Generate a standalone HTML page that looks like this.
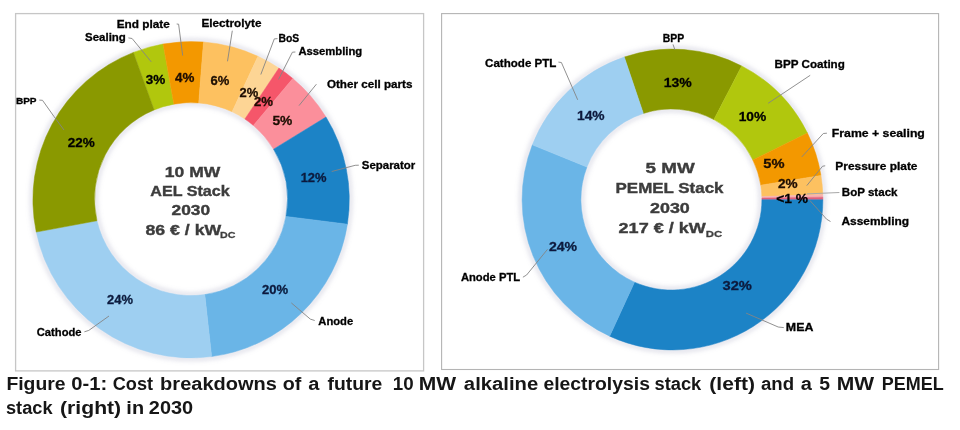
<!DOCTYPE html>
<html><head><meta charset="utf-8"><title>Figure 0-1</title>
<style>
html,body{margin:0;padding:0;background:#fff;}
body{width:960px;height:430px;overflow:hidden;}
svg{display:block;font-family:"Liberation Sans",sans-serif;font-weight:bold;}
</style></head><body>
<svg width="960" height="430" viewBox="0 0 960 430">
<defs><filter id="soft" x="-5%" y="-5%" width="110%" height="110%"><feGaussianBlur stdDeviation="0.55"/></filter><filter id="tsoft" x="0" y="0" width="100%" height="100%" filterUnits="userSpaceOnUse"><feGaussianBlur stdDeviation="0.3"/></filter><filter id="halo" x="-5%" y="-5%" width="110%" height="110%"><feGaussianBlur stdDeviation="2"/></filter></defs>
<rect x="0" y="0" width="960" height="430" fill="#fff"/>
<rect x="15.6" y="13.6" width="408" height="357.3" fill="#fff" stroke="#c6c6c6" stroke-width="1.3"/><rect x="441.6" y="13.6" width="497" height="355.9" fill="#fff" stroke="#b4b4b4" stroke-width="1.1"/>
<g filter="url(#halo)" fill="none" stroke="#9a9ab8" stroke-opacity="0.28" stroke-width="4.5">
<circle cx="191.1" cy="199.7" r="159.39999999999998"/><circle cx="191.0" cy="199.1" r="95.3"/>
<circle cx="672.5" cy="199.5" r="151.6"/><circle cx="671.4" cy="199.5" r="89.3"/>
</g>
<g filter="url(#soft)">
<path d="M133.38,52.41 A158.2,158.2 0 0 1 163.09,44.00 L173.90,104.13 A96.5,96.5 0 0 0 154.10,109.93 Z" fill="#b1c70e" stroke="#b1c70e" stroke-width="0.5"/>
<path d="M163.09,44.00 A158.2,158.2 0 0 1 203.51,41.99 L198.72,102.91 A96.5,96.5 0 0 0 173.90,104.13 Z" fill="#f39800" stroke="#f39800" stroke-width="0.5"/>
<path d="M203.51,41.99 A158.2,158.2 0 0 1 257.96,56.32 L232.09,111.79 A96.5,96.5 0 0 0 198.72,102.91 Z" fill="#fdc160" stroke="#fdc160" stroke-width="0.5"/>
<path d="M257.96,56.32 A158.2,158.2 0 0 1 278.88,68.08 L244.89,119.05 A96.5,96.5 0 0 0 232.09,111.79 Z" fill="#fdd595" stroke="#fdd595" stroke-width="0.5"/>
<path d="M278.88,68.08 A158.2,158.2 0 0 1 292.79,78.51 L253.38,125.47 A96.5,96.5 0 0 0 244.89,119.05 Z" fill="#f5566b" stroke="#f5566b" stroke-width="0.5"/>
<path d="M292.79,78.51 A158.2,158.2 0 0 1 325.99,117.04 L273.57,149.16 A96.5,96.5 0 0 0 253.38,125.47 Z" fill="#fb8f9b" stroke="#fb8f9b" stroke-width="0.5"/>
<path d="M325.99,117.04 A158.2,158.2 0 0 1 347.40,224.18 L285.93,216.42 A96.5,96.5 0 0 0 273.57,149.16 Z" fill="#1f83c6" stroke="#1f83c6" stroke-width="0.5"/>
<path d="M347.40,224.18 A158.2,158.2 0 0 1 211.61,356.56 L204.78,294.61 A96.5,96.5 0 0 0 285.93,216.42 Z" fill="#6ab5e7" stroke="#6ab5e7" stroke-width="0.5"/>
<path d="M211.61,356.56 A158.2,158.2 0 0 1 36.24,232.05 L96.96,220.74 A96.5,96.5 0 0 0 204.78,294.61 Z" fill="#9ecff1" stroke="#9ecff1" stroke-width="0.5"/>
<path d="M36.24,232.05 A158.2,158.2 0 0 1 133.38,52.41 L154.10,109.93 A96.5,96.5 0 0 0 96.96,220.74 Z" fill="#8a9904" stroke="#8a9904" stroke-width="0.5"/>
<path d="M624.28,57.04 A150.4,150.4 0 0 1 741.71,65.97 L713.91,119.61 A90.5,90.5 0 0 0 643.37,113.45 Z" fill="#8a9904" stroke="#8a9904" stroke-width="0.5"/>
<path d="M741.71,65.97 A150.4,150.4 0 0 1 807.45,133.10 L752.82,159.98 A90.5,90.5 0 0 0 713.91,119.61 Z" fill="#b1c70e" stroke="#b1c70e" stroke-width="0.5"/>
<path d="M807.45,133.10 A150.4,150.4 0 0 1 820.97,175.45 L760.76,185.20 A90.5,90.5 0 0 0 752.82,159.98 Z" fill="#f39800" stroke="#f39800" stroke-width="0.5"/>
<path d="M820.97,175.45 A150.4,150.4 0 0 1 822.82,194.51 L761.85,196.54 A90.5,90.5 0 0 0 760.76,185.20 Z" fill="#fdc160" stroke="#fdc160" stroke-width="0.5"/>
<path d="M822.82,194.51 A150.4,150.4 0 0 1 822.88,197.14 L761.89,198.10 A90.5,90.5 0 0 0 761.85,196.54 Z" fill="#f7b3b0" stroke="#f7b3b0" stroke-width="0.5"/>
<path d="M822.88,197.14 A150.4,150.4 0 0 1 822.90,199.76 L761.90,199.66 A90.5,90.5 0 0 0 761.89,198.10 Z" fill="#e0607c" stroke="#e0607c" stroke-width="0.5"/>
<path d="M822.90,199.76 A150.4,150.4 0 0 1 609.65,336.14 L634.49,282.13 A90.5,90.5 0 0 0 761.90,199.66 Z" fill="#1f83c6" stroke="#1f83c6" stroke-width="0.5"/>
<path d="M609.65,336.14 A150.4,150.4 0 0 1 532.37,144.87 L586.94,167.00 A90.5,90.5 0 0 0 634.49,282.13 Z" fill="#6ab5e7" stroke="#6ab5e7" stroke-width="0.5"/>
<path d="M532.37,144.87 A150.4,150.4 0 0 1 624.28,57.04 L643.37,113.45 A90.5,90.5 0 0 0 586.94,167.00 Z" fill="#9ecff1" stroke="#9ecff1" stroke-width="0.5"/>
</g>
<g>
<polyline points="176.7,24 178.6,24.2 182.7,55.6" fill="none" stroke="#858585" stroke-width="0.9" stroke-opacity="1"/>
<polyline points="128.4,37.9 132.1,38.5 151.3,61.9" fill="none" stroke="#858585" stroke-width="0.9" stroke-opacity="1"/>
<polyline points="232.3,30.7 227.5,61.3" fill="none" stroke="#858585" stroke-width="0.9" stroke-opacity="1"/>
<polyline points="277.5,38.6 274.3,38.9 260.8,74.5" fill="none" stroke="#858585" stroke-width="0.9" stroke-opacity="1"/>
<polyline points="295.4,52 292.4,52.2 278.5,79.5" fill="none" stroke="#858585" stroke-width="0.9" stroke-opacity="1"/>
<polyline points="316.4,84.2 299,105.6" fill="none" stroke="#858585" stroke-width="0.9" stroke-opacity="1"/>
<polyline points="358.8,165.2 355.2,165.3 331.7,171.5" fill="none" stroke="#858585" stroke-width="0.9" stroke-opacity="1"/>
<polyline points="314.7,320.5 310.3,319.1 291.3,302.9" fill="none" stroke="#858585" stroke-width="0.9" stroke-opacity="1"/>
<polyline points="84.4,331.8 88.8,330.4 109,316" fill="none" stroke="#858585" stroke-width="0.9" stroke-opacity="1"/>
<polyline points="39.3,100.1 42.5,100.3 54,116.5 64,130" fill="none" stroke="#858585" stroke-width="0.9" stroke-opacity="1"/>
<polyline points="558.4,62.1 561.4,62.5 577.7,99.8" fill="none" stroke="#858585" stroke-width="0.9" stroke-opacity="1"/>
<polyline points="673,44.4 674.9,49.8" fill="none" stroke="#858585" stroke-width="0.9" stroke-opacity="1"/>
<polyline points="810.2,75.3 768.1,103.3" fill="none" stroke="#858585" stroke-width="0.9" stroke-opacity="1"/>
<polyline points="826.9,133.2 823.3,133.5 801.8,156.9" fill="none" stroke="#858585" stroke-width="0.9" stroke-opacity="1"/>
<polyline points="825.2,165.8 822.6,166.2 806.8,185.6" fill="none" stroke="#858585" stroke-width="0.9" stroke-opacity="1"/>
<polyline points="830.5,221.5 826.6,219.2 809.8,200.4" fill="none" stroke="#858585" stroke-width="0.9" stroke-opacity="1"/>
<polyline points="783.8,327.6 778.2,327 746.1,313.1" fill="none" stroke="#858585" stroke-width="0.9" stroke-opacity="1"/>
<polyline points="522.9,277.2 526.6,275 547.5,249.3" fill="none" stroke="#858585" stroke-width="0.9" stroke-opacity="1"/>
<polyline points="839.4,192.5 806.8,193.9" fill="none" stroke="#a8a8a8" stroke-width="1.0" stroke-opacity="1"/>
</g>
<g filter="url(#tsoft)">
<text x="116.72" y="27.6" font-size="10.0" fill="#000" stroke="#000" stroke-width="0.28" textLength="53.10" lengthAdjust="spacingAndGlyphs">End plate</text>
<text x="85.10" y="41.4" font-size="10.0" fill="#000" stroke="#000" stroke-width="0.28" textLength="40.76" lengthAdjust="spacingAndGlyphs">Sealing</text>
<text x="201.43" y="26.9" font-size="10.0" fill="#000" stroke="#000" stroke-width="0.28" textLength="60.04" lengthAdjust="spacingAndGlyphs">Electrolyte</text>
<text x="278.46" y="42.4" font-size="10.0" fill="#000" stroke="#000" stroke-width="0.28" textLength="20.74" lengthAdjust="spacingAndGlyphs">BoS</text>
<text x="298.40" y="55.3" font-size="10.0" fill="#000" stroke="#000" stroke-width="0.28" textLength="63.87" lengthAdjust="spacingAndGlyphs">Assembling</text>
<text x="326.90" y="88.4" font-size="10.0" fill="#000" stroke="#000" stroke-width="0.28" textLength="85.52" lengthAdjust="spacingAndGlyphs">Other cell parts</text>
<text x="361.80" y="168.6" font-size="10.0" fill="#000" stroke="#000" stroke-width="0.28" textLength="53.44" lengthAdjust="spacingAndGlyphs">Separator</text>
<text x="318.30" y="324.5" font-size="10.0" fill="#000" stroke="#000" stroke-width="0.28" textLength="34.82" lengthAdjust="spacingAndGlyphs">Anode</text>
<text x="36.80" y="335.8" font-size="10.0" fill="#000" stroke="#000" stroke-width="0.28" textLength="44.70" lengthAdjust="spacingAndGlyphs">Cathode</text>
<text x="15.91" y="104.2" font-size="9.2" fill="#000" stroke="#000" stroke-width="0.28" textLength="20.69" lengthAdjust="spacingAndGlyphs">BPP</text>
<text x="67.80" y="146.9" font-size="12.6" fill="#000" stroke="#000" stroke-width="0.28" textLength="27.03" lengthAdjust="spacingAndGlyphs">22%</text>
<text x="145.83" y="84.0" font-size="12.6" fill="#000" stroke="#000" stroke-width="0.28" textLength="19.49" lengthAdjust="spacingAndGlyphs">3%</text>
<text x="175.10" y="82.0" font-size="12.6" fill="#1c0b00" stroke="#1c0b00" stroke-width="0.28" textLength="19.32" lengthAdjust="spacingAndGlyphs">4%</text>
<text x="210.50" y="84.8" font-size="12.6" fill="#1c0b00" stroke="#1c0b00" stroke-width="0.28" textLength="18.81" lengthAdjust="spacingAndGlyphs">6%</text>
<text x="239.60" y="97.2" font-size="12.6" fill="#1c0b00" stroke="#1c0b00" stroke-width="0.28" textLength="18.71" lengthAdjust="spacingAndGlyphs">2%</text>
<text x="254.00" y="106.2" font-size="12.6" fill="#1c0b00" stroke="#1c0b00" stroke-width="0.28" textLength="19.11" lengthAdjust="spacingAndGlyphs">2%</text>
<text x="272.41" y="124.6" font-size="12.6" fill="#1c0b00" stroke="#1c0b00" stroke-width="0.28" textLength="19.92" lengthAdjust="spacingAndGlyphs">5%</text>
<text x="300.68" y="182.0" font-size="12.6" fill="#0a1a3c" stroke="#0a1a3c" stroke-width="0.28" textLength="25.85" lengthAdjust="spacingAndGlyphs">12%</text>
<text x="262.00" y="294.4" font-size="12.6" fill="#0a1a3c" stroke="#0a1a3c" stroke-width="0.28" textLength="26.13" lengthAdjust="spacingAndGlyphs">20%</text>
<text x="107.10" y="304.2" font-size="12.6" fill="#0a1a3c" stroke="#0a1a3c" stroke-width="0.28" textLength="25.92" lengthAdjust="spacingAndGlyphs">24%</text>
<text x="485.10" y="66.5" font-size="10.0" fill="#000" stroke="#000" stroke-width="0.28" textLength="71.28" lengthAdjust="spacingAndGlyphs">Cathode PTL</text>
<text x="662.66" y="42.1" font-size="10.0" fill="#000" stroke="#000" stroke-width="0.28" textLength="21.43" lengthAdjust="spacingAndGlyphs">BPP</text>
<text x="774.64" y="67.9" font-size="10.0" fill="#000" stroke="#000" stroke-width="0.28" textLength="70.22" lengthAdjust="spacingAndGlyphs">BPP Coating</text>
<text x="831.87" y="137.3" font-size="10.0" fill="#000" stroke="#000" stroke-width="0.28" textLength="93.00" lengthAdjust="spacingAndGlyphs">Frame + sealing</text>
<text x="835.31" y="169.7" font-size="10.0" fill="#000" stroke="#000" stroke-width="0.28" textLength="82.22" lengthAdjust="spacingAndGlyphs">Pressure plate</text>
<text x="841.84" y="196.4" font-size="10.0" fill="#000" stroke="#000" stroke-width="0.28" textLength="55.67" lengthAdjust="spacingAndGlyphs">BoP stack</text>
<text x="841.40" y="225.3" font-size="10.0" fill="#000" stroke="#000" stroke-width="0.28" textLength="67.72" lengthAdjust="spacingAndGlyphs">Assembling</text>
<text x="785.86" y="330.9" font-size="10.0" fill="#000" stroke="#000" stroke-width="0.28" textLength="27.53" lengthAdjust="spacingAndGlyphs">MEA</text>
<text x="460.90" y="280.6" font-size="10.0" fill="#000" stroke="#000" stroke-width="0.28" textLength="59.25" lengthAdjust="spacingAndGlyphs">Anode PTL</text>
<text x="577.00" y="120.4" font-size="12.6" fill="#0a1a3c" stroke="#0a1a3c" stroke-width="0.28" textLength="27.64" lengthAdjust="spacingAndGlyphs">14%</text>
<text x="663.79" y="87.1" font-size="12.6" fill="#000" stroke="#000" stroke-width="0.28" textLength="28.06" lengthAdjust="spacingAndGlyphs">13%</text>
<text x="738.71" y="121.3" font-size="12.6" fill="#000" stroke="#000" stroke-width="0.28" textLength="27.53" lengthAdjust="spacingAndGlyphs">10%</text>
<text x="763.24" y="167.9" font-size="12.6" fill="#1c0b00" stroke="#1c0b00" stroke-width="0.28" textLength="21.20" lengthAdjust="spacingAndGlyphs">5%</text>
<text x="777.90" y="188.4" font-size="12.6" fill="#1c0b00" stroke="#1c0b00" stroke-width="0.28" textLength="19.62" lengthAdjust="spacingAndGlyphs">2%</text>
<text x="776.31" y="202.5" font-size="12.6" fill="#000" stroke="#000" stroke-width="0.28" textLength="31.76" lengthAdjust="spacingAndGlyphs">&lt;1 %</text>
<text x="548.90" y="251.2" font-size="12.6" fill="#0a1a3c" stroke="#0a1a3c" stroke-width="0.28" textLength="28.14" lengthAdjust="spacingAndGlyphs">24%</text>
<text x="722.53" y="289.8" font-size="12.6" fill="#0a1a3c" stroke="#0a1a3c" stroke-width="0.28" textLength="29.42" lengthAdjust="spacingAndGlyphs">32%</text>
<text x="164.84" y="177.0" font-size="15.1" fill="#3c3c3c" stroke="#3c3c3c" stroke-width="0.38" textLength="55.44" lengthAdjust="spacingAndGlyphs">10 MW</text>
<text x="150.33" y="196.1" font-size="15.1" fill="#3c3c3c" stroke="#3c3c3c" stroke-width="0.38" textLength="79.38" lengthAdjust="spacingAndGlyphs">AEL Stack</text>
<text x="171.60" y="215.0" font-size="15.1" fill="#3c3c3c" stroke="#3c3c3c" stroke-width="0.38" textLength="38.56" lengthAdjust="spacingAndGlyphs">2030</text>
<text x="145.53" y="234.5" font-size="15.1" fill="#3c3c3c" stroke="#3c3c3c" stroke-width="0.38" textLength="75.69" lengthAdjust="spacingAndGlyphs">86 € / kW</text>
<text x="220.11" y="238.0" font-size="9.8" fill="#3c3c3c" stroke="#3c3c3c" stroke-width="0.28" textLength="15.46" lengthAdjust="spacingAndGlyphs">DC</text>
<text x="645.55" y="172.9" font-size="15.1" fill="#3c3c3c" stroke="#3c3c3c" stroke-width="0.38" textLength="49.17" lengthAdjust="spacingAndGlyphs">5 MW</text>
<text x="615.58" y="192.9" font-size="15.1" fill="#3c3c3c" stroke="#3c3c3c" stroke-width="0.38" textLength="107.95" lengthAdjust="spacingAndGlyphs">PEMEL Stack</text>
<text x="650.00" y="212.6" font-size="15.1" fill="#3c3c3c" stroke="#3c3c3c" stroke-width="0.38" textLength="39.78" lengthAdjust="spacingAndGlyphs">2030</text>
<text x="618.60" y="232.9" font-size="15.1" fill="#3c3c3c" stroke="#3c3c3c" stroke-width="0.38" textLength="87.20" lengthAdjust="spacingAndGlyphs">217 € / kW</text>
<text x="705.84" y="236.6" font-size="9.8" fill="#3c3c3c" stroke="#3c3c3c" stroke-width="0.28" textLength="16.44" lengthAdjust="spacingAndGlyphs">DC</text>
<text x="6.42" y="390.2" font-size="18.0" fill="#141414" stroke="#141414" stroke-width="0" textLength="59.17" lengthAdjust="spacingAndGlyphs">Figure</text>
<text x="71.38" y="390.2" font-size="18.0" fill="#141414" stroke="#141414" stroke-width="0" textLength="35.88" lengthAdjust="spacingAndGlyphs">0-1:</text>
<text x="112.74" y="390.2" font-size="18.0" fill="#141414" stroke="#141414" stroke-width="0" textLength="40.26" lengthAdjust="spacingAndGlyphs">Cost</text>
<text x="160.14" y="390.2" font-size="18.0" fill="#141414" stroke="#141414" stroke-width="0" textLength="116.76" lengthAdjust="spacingAndGlyphs">breakdowns</text>
<text x="282.66" y="390.2" font-size="18.0" fill="#141414" stroke="#141414" stroke-width="0" textLength="18.59" lengthAdjust="spacingAndGlyphs">of</text>
<text x="308.39" y="390.2" font-size="18.0" fill="#141414" stroke="#141414" stroke-width="0" textLength="11.13" lengthAdjust="spacingAndGlyphs">a</text>
<text x="327.50" y="390.2" font-size="18.0" fill="#141414" stroke="#141414" stroke-width="0" textLength="54.82" lengthAdjust="spacingAndGlyphs">future</text>
<text x="392.71" y="390.2" font-size="18.0" fill="#141414" stroke="#141414" stroke-width="0" textLength="20.87" lengthAdjust="spacingAndGlyphs">10</text>
<text x="418.83" y="390.2" font-size="18.0" fill="#141414" stroke="#141414" stroke-width="0" textLength="37.40" lengthAdjust="spacingAndGlyphs">MW</text>
<text x="463.88" y="390.2" font-size="18.0" fill="#141414" stroke="#141414" stroke-width="0" textLength="74.30" lengthAdjust="spacingAndGlyphs">alkaline</text>
<text x="543.43" y="390.2" font-size="18.0" fill="#141414" stroke="#141414" stroke-width="0" textLength="106.47" lengthAdjust="spacingAndGlyphs">electrolysis</text>
<text x="654.48" y="390.2" font-size="18.0" fill="#141414" stroke="#141414" stroke-width="0" textLength="46.81" lengthAdjust="spacingAndGlyphs">stack</text>
<text x="709.33" y="390.2" font-size="18.0" fill="#141414" stroke="#141414" stroke-width="0" textLength="45.59" lengthAdjust="spacingAndGlyphs">(left)</text>
<text x="760.97" y="390.2" font-size="18.0" fill="#141414" stroke="#141414" stroke-width="0" textLength="33.08" lengthAdjust="spacingAndGlyphs">and</text>
<text x="800.89" y="390.2" font-size="18.0" fill="#141414" stroke="#141414" stroke-width="0" textLength="11.13" lengthAdjust="spacingAndGlyphs">a</text>
<text x="819.22" y="390.2" font-size="18.0" fill="#141414" stroke="#141414" stroke-width="0" textLength="10.79" lengthAdjust="spacingAndGlyphs">5</text>
<text x="836.83" y="390.2" font-size="18.0" fill="#141414" stroke="#141414" stroke-width="0" textLength="37.35" lengthAdjust="spacingAndGlyphs">MW</text>
<text x="881.80" y="390.2" font-size="18.0" fill="#141414" stroke="#141414" stroke-width="0" textLength="61.91" lengthAdjust="spacingAndGlyphs">PEMEL</text>
<text x="5.99" y="413.5" font-size="18.0" fill="#141414" stroke="#141414" stroke-width="0" textLength="46.56" lengthAdjust="spacingAndGlyphs">stack</text>
<text x="60.08" y="413.5" font-size="18.0" fill="#141414" stroke="#141414" stroke-width="0" textLength="61.08" lengthAdjust="spacingAndGlyphs">(right)</text>
<text x="126.39" y="413.5" font-size="18.0" fill="#141414" stroke="#141414" stroke-width="0" textLength="17.71" lengthAdjust="spacingAndGlyphs">in</text>
<text x="148.89" y="413.5" font-size="18.0" fill="#141414" stroke="#141414" stroke-width="0" textLength="44.26" lengthAdjust="spacingAndGlyphs">2030</text>
</g>
</svg>
</body></html>
